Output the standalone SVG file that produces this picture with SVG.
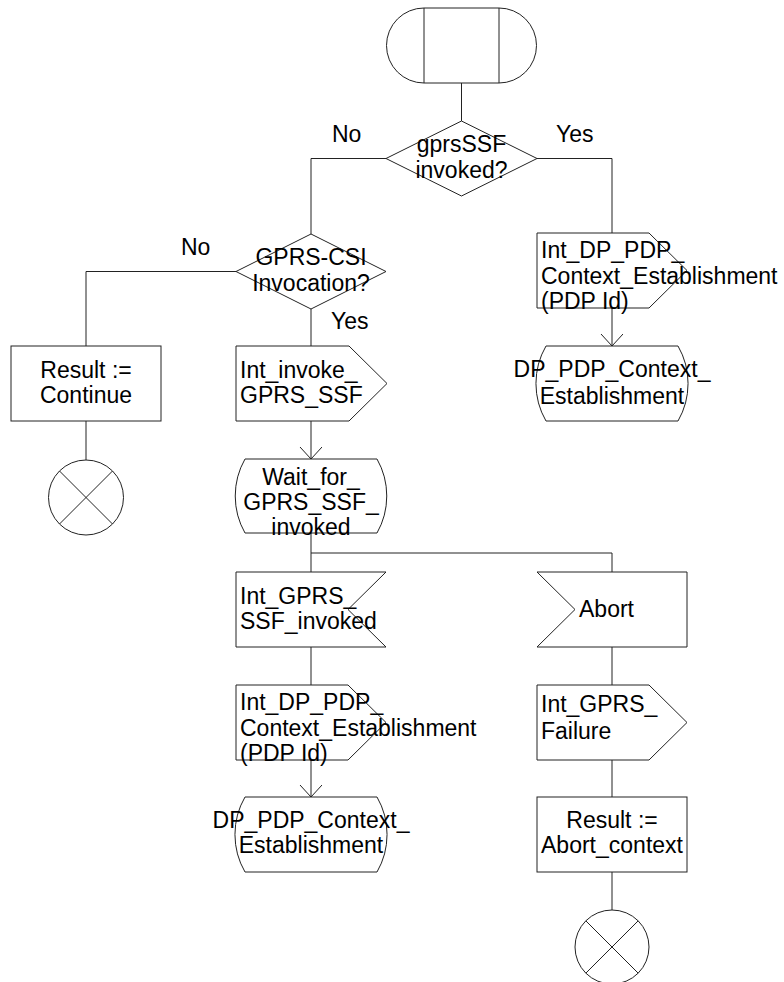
<svg xmlns="http://www.w3.org/2000/svg" width="784" height="982" viewBox="0 0 784 982">
<style>
.s{fill:#fff;stroke:#222;stroke-width:1}
.l{fill:none;stroke:#222;stroke-width:1}
text{font-family:"Liberation Sans",Arial,sans-serif;font-size:23px;fill:#000}
.c{text-anchor:middle}
</style>
<defs>
<marker id="v" markerWidth="14" markerHeight="24" refX="12" refY="11" orient="auto" markerUnits="userSpaceOnUse" viewBox="0 0 14 24">
<path d="M0,0 L12,11 L0,22" fill="none" stroke="#222" stroke-width="1"/>
</marker>
</defs>
<g id="connectors">
<path class="l" d="M461.5,83 V121"/>
<path class="l" d="M386,158.5 H311 V234"/>
<path class="l" d="M537,158.5 H612 V233"/>
<path class="l" d="M236,271.5 H86 V346"/>
<path class="l" d="M311,309 V346"/>
<path class="l" d="M86,421 V460"/>
<path class="l" d="M311,421 V459" marker-end="url(#v)"/>
<path class="l" d="M612,308 V346" marker-end="url(#v)"/>
<path class="l" d="M311,533 V572"/>
<path class="l" d="M311,553 H612 V572"/>
<path class="l" d="M311,647 V685"/>
<path class="l" d="M311,760 V797" marker-end="url(#v)"/>
<path class="l" d="M612,647 V685"/>
<path class="l" d="M612,760 V797"/>
<path class="l" d="M612,872 V910"/>
<text x="332" y="142">No</text>
<text x="556" y="142">Yes</text>
<text x="181" y="255">No</text>
<text x="331" y="329">Yes</text>
</g>
<g id="start">
<path class="s" d="M424,8 H499 A37.5,37.5 0 0 1 499,83 H424 A37.5,37.5 0 0 1 424,8 Z"/>
<path class="l" d="M424,8 V83 M499,8 V83"/>
</g>
<g id="dec1">
<path class="s" d="M461.5,121 L537,158.5 L461.5,196 L386,158.5 Z"/>
<text class="c" x="461.5" y="152">gprsSSF</text>
<text class="c" x="461.5" y="177.5">invoked?</text>
</g>
<g id="dec2">
<path class="s" d="M311,234 L386,271.5 L311,309 L236,271.5 Z"/>
<text class="c" x="311" y="265">GPRS-CSI</text>
<text class="c" x="311" y="290.5">Invocation?</text>
</g>
<g id="task1">
<rect class="s" x="11" y="346" width="150" height="75"/>
<text class="c" x="86" y="377.5">Result :=</text>
<text class="c" x="86" y="403">Continue</text>
</g>
<g id="stop1">
<circle class="s" cx="86" cy="497.5" r="37.5"/>
<path class="l" d="M59.5,471 L112.5,524 M112.5,471 L59.5,524"/>
</g>
<g id="send1">
<path class="s" d="M236,346 H349 L387,383.5 L349,421 H236 Z"/>
<text x="240" y="377.5">Int_invoke_</text>
<text x="240" y="403">GPRS_SSF</text>
</g>
<g id="send2">
<path class="s" d="M537,233 H649 L687,270.5 L649,308 H537 Z"/>
<text x="541" y="258">Int_DP_PDP_</text>
<text x="541" y="283.5">Context_Establishment</text>
<text x="541" y="309">(PDP Id)</text>
</g>
<g id="state1">
<path class="s" d="M546,346 H678 A75,75 0 0 1 678,421 H546 A75,75 0 0 1 546,346 Z"/>
<text class="c" x="612" y="377">DP_PDP_Context_</text>
<text class="c" x="612" y="403.5">Establishment</text>
</g>
<g id="state2">
<path class="s" d="M245,459 H377 A75,75 0 0 1 377,533 H245 A75,75 0 0 1 245,459 Z"/>
<text class="c" x="311" y="485">Wait_for_</text>
<text class="c" x="311" y="510">GPRS_SSF_</text>
<text class="c" x="311" y="535">invoked</text>
</g>
<g id="recv1">
<path class="s" d="M236,572 H386 L348,609.5 L386,647 H236 Z"/>
<text x="240" y="603.5">Int_GPRS_</text>
<text x="240" y="629">SSF_invoked</text>
</g>
<g id="recv2">
<path class="s" d="M537,572 H687 V647 H537 L575,609.5 Z"/>
<text x="579" y="617">Abort</text>
</g>
<g id="send3">
<path class="s" d="M236,685 H348 L386,722.5 L348,760 H236 Z"/>
<text x="240" y="710">Int_DP_PDP_</text>
<text x="240" y="735.5">Context_Establishment</text>
<text x="240" y="761">(PDP Id)</text>
</g>
<g id="send4">
<path class="s" d="M537,685 H649 L687,722.5 L649,760 H537 Z"/>
<text x="541" y="712">Int_GPRS_</text>
<text x="541" y="739">Failure</text>
</g>
<g id="state3">
<path class="s" d="M245,797 H377 A75,75 0 0 1 377,872 H245 A75,75 0 0 1 245,797 Z"/>
<text class="c" x="311" y="828">DP_PDP_Context_</text>
<text class="c" x="311" y="853">Establishment</text>
</g>
<g id="task2">
<rect class="s" x="537" y="797" width="150" height="75"/>
<text class="c" x="612" y="828">Result :=</text>
<text class="c" x="612" y="853">Abort_context</text>
</g>
<g id="stop2">
<circle class="s" cx="612" cy="947" r="37"/>
<path class="l" d="M585.8,920.8 L638.2,973.2 M638.2,920.8 L585.8,973.2"/>
</g>
</svg>
